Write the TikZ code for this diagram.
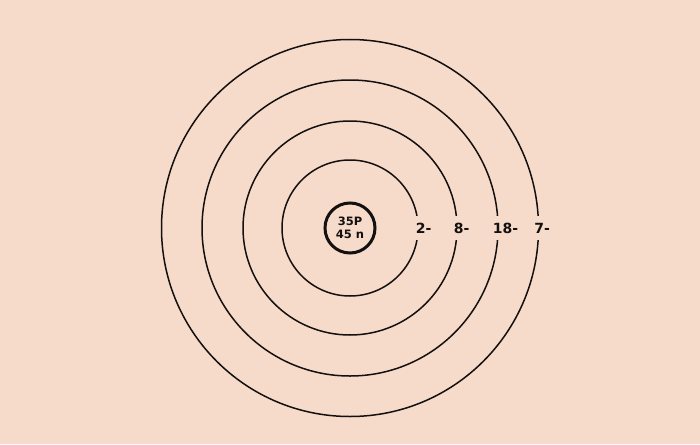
\documentclass[tikz,border=0pt]{standalone}
\usepackage{fontspec}
\setmainfont{DejaVu Sans}
\definecolor{paper}{HTML}{F6DACA}
\definecolor{ink}{HTML}{141010}
\tikzset{
  orbit/.style={circle, draw=ink, line width=1.5pt, inner sep=0pt},
  nucleus/.style={circle, draw=ink, line width=3pt, minimum size=50pt, inner sep=0pt, align=center, font=\bfseries\fontsize{11.5}{12}\selectfont, text=ink},
  shelllabel/.style={anchor=west, fill=paper, inner sep=1pt, minimum height=24pt, font=\bfseries\fontsize{14}{14}\selectfont, text=ink}
}
\begin{document}
\begin{tikzpicture}[x=1pt,y=-1pt]
  \fill[paper] (0,0) rectangle (700,444);
  \useasboundingbox (0,0) rectangle (700,444);
  \coordinate (c) at (350,228);
  \node[orbit, minimum size=136pt] (o1) at (c) {};
  \node[orbit, minimum size=214pt] (o2) at (c) {};
  \node[orbit, minimum size=296pt] (o3) at (c) {};
  \node[orbit, minimum size=377pt] (o4) at (c) {};
  \node[nucleus] (n) at (c) {35P\\[1pt]45 n};
  \node[shelllabel] (l1) at ([xshift=-4pt]o1.east) {2-};
  \node[shelllabel] (l2) at ([xshift=-5pt]o2.east) {8-};
  \node[shelllabel] (l3) at ([xshift=-7pt]o3.east) {18-};
  \node[shelllabel] (l4) at ([xshift=-6pt]o4.east) {7-};
\end{tikzpicture}
\end{document}
